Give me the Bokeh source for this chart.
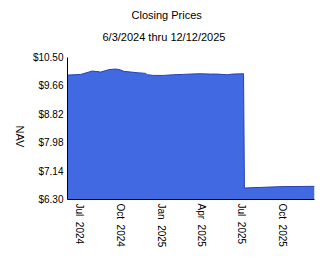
import math
from datetime import datetime
from bokeh.plotting import figure
from bokeh.models import Range1d, FixedTicker, Title, NumeralTickFormatter, ColumnDataSource, LinearAxis
from bokeh.embed import file_html
from bokeh.resources import INLINE

dates = ["2024-06-03", "2024-07-03", "2024-07-29", "2024-08-17", "2024-09-04", "2024-09-20",
         "2024-10-01", "2024-10-08", "2024-11-08", "2024-11-26", "2024-11-30", "2024-12-14",
         "2025-01-05", "2025-01-28", "2025-02-19", "2025-03-07", "2025-03-29", "2025-04-21",
         "2025-05-06", "2025-05-29", "2025-06-11", "2025-07-05", "2025-07-07", "2025-08-18",
         "2025-09-25", "2025-12-12"]
nav = [9.98, 10.00, 10.10, 10.07, 10.14, 10.16,
       10.13, 10.09, 10.05, 10.03, 9.99, 9.97,
       9.97, 9.99, 10.00, 10.01, 10.02, 10.01,
       10.01, 9.99, 10.01, 10.02, 6.64, 6.66,
       6.68, 6.69]
y_ticks = [6.30, 7.14, 7.98, 8.82, 9.66, 10.50]
x_tick_dates = ["2024-07-01", "2024-10-01", "2025-01-01", "2025-04-01", "2025-07-01", "2025-10-01"]
x_tick_labels = ["Jul\u00a0\u00a02024", "Oct\u00a0\u00a02024", "Jan\u00a0\u00a02025",
                 "Apr\u00a0\u00a02025", "Jul\u00a0\u00a02025", "Oct\u00a0\u00a02025"]
y_title = "NAV"

def ms(s):
    return datetime.strptime(s, "%Y-%m-%d").timestamp() * 1000.0

xs = [ms(d) for d in dates]
src = ColumnDataSource(dict(x=xs, y=nav, base=[y_ticks[0]] * len(xs)))

FONT = "Liberation Sans"
p = figure(width=324, height=267, output_backend="svg", toolbar_location=None,
           x_range=Range1d(xs[0], xs[-1]), y_range=Range1d(y_ticks[0], y_ticks[-1]),
           min_border_left=67, min_border_right=10, min_border_top=57, min_border_bottom=68)
p.outline_line_color = None
p.background_fill_color = "white"
p.border_fill_color = "white"
p.grid.visible = False

p.varea(x="x", y1="base", y2="y", source=src, fill_color="#4169E1")
p.line(x="x", y="y", source=src, line_color="#2444b0", line_width=1)

p.yaxis.ticker = FixedTicker(ticks=y_ticks)
p.yaxis.formatter = NumeralTickFormatter(format="$0.00")
p.xaxis.ticker = FixedTicker(ticks=[ms(d) for d in x_tick_dates])
p.xaxis.major_label_overrides = {ms(d): l for d, l in zip(x_tick_dates, x_tick_labels)}
p.xaxis.major_label_orientation = -math.pi / 2
for ax in (p.xaxis, p.yaxis):
    ax.major_tick_out = 0
    ax.major_tick_in = 0
    ax.minor_tick_out = 0
    ax.minor_tick_in = 0
    ax.axis_line_color = "black"
    ax.axis_line_width = 1
    ax.major_label_text_font = FONT
    ax.major_label_text_font_size = "10px"
    ax.major_label_text_color = "black"
    ax.major_label_standoff = 4

# y-axis title drawn as the single label of an extra, line-less axis
# (the rotated label ends at its anchor, so the anchor sits below the middle)
span = y_ticks[-1] - y_ticks[0]
anchor = (y_ticks[0] + y_ticks[-1]) / 2 - span * 0.133
title_axis = LinearAxis(ticker=FixedTicker(ticks=[anchor]),
                        major_label_overrides={anchor: y_title},
                        major_label_orientation=-math.pi / 2,
                        axis_line_color=None, major_tick_out=0, major_tick_in=0,
                        minor_tick_out=0, minor_tick_in=0,
                        major_label_text_font=FONT, major_label_text_font_size="11px",
                        major_label_text_color="black", major_label_standoff=10)
p.add_layout(title_axis, "left")

p.add_layout(Title(text="6/3/2024 thru 12/12/2025", align="left", offset=35,
                   text_font=FONT, text_font_size="11px", text_font_style="normal",
                   text_color="black", standoff=29), "above")
p.add_layout(Title(text="Closing Prices", align="left", offset=64,
                   text_font=FONT, text_font_size="11px", text_font_style="normal",
                   text_color="black", standoff=-13), "above")

open("out.html", "w").write(file_html(p, INLINE))
